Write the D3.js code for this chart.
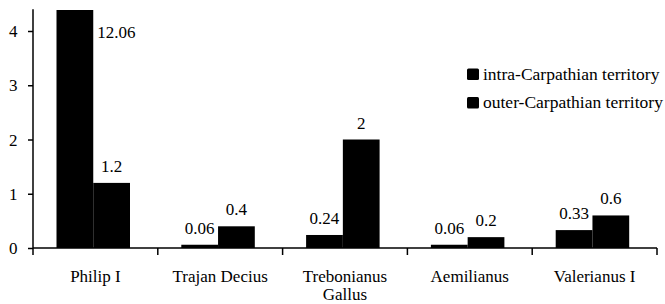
<!DOCTYPE html>
<html><head><meta charset="utf-8">
<script src="https://cdn.jsdelivr.net/npm/d3@7/dist/d3.min.js"></script>
<style>body{margin:0;background:#fff;} svg{display:block;} svg text{font-family:"Liberation Serif","DejaVu Serif",serif !important;}</style>
</head><body>
<svg id="c" width="665" height="304"></svg>
<script>
const categories = [["Philip I"], ["Trajan Decius"], ["Trebonianus", "Gallus"], ["Aemilianus"], ["Valerianus I"]];
const seriesNames = ["intra-Carpathian territory", "outer-Carpathian territory"];
const intraValues = [12.06, 0.06, 0.24, 0.06, 0.33];
const outerValues = [1.2, 0.4, 2, 0.2, 0.6];
const yTicks = [0, 1, 2, 3, 4];

(function () {
const FONT = "Liberation Serif, DejaVu Serif, serif";
const FS = 17;
const svg = d3.select("#c").attr("font-family", FONT);
const mLeft = 33, mRight = 657, mBottom = 248, mTop = 9.3;
const x = d3.scaleBand().domain(d3.range(categories.length)).range([mLeft, mRight]).paddingInner(0).paddingOuter(0);
const x1 = d3.scaleBand().domain([0, 1]).range([23.5, 97]);
const y = d3.scaleLinear().domain([0, 4.4]).range([mBottom, mTop]);

svg.append("clipPath").attr("id", "clip").append("rect")
  .attr("x", mLeft).attr("y", y(4.4) + 0.7).attr("width", mRight - mLeft).attr("height", mBottom - y(4.4));

const series = [intraValues, outerValues];
const g = svg.append("g").attr("clip-path", "url(#clip)");
series.forEach((vals, s) => {
  g.selectAll(".b" + s).data(vals).join("rect")
    .attr("x", (d, i) => x(i) + x1(s))
    .attr("width", x1.bandwidth())
    .attr("y", d => y(d))
    .attr("height", d => mBottom - y(d))
    .attr("fill", "#000");
});

// value labels
series.forEach((vals, s) => {
  svg.selectAll(".l" + s).data(vals).join("text")
    .attr("x", (d, i) => {
      if (y(d) < mTop) return x(i) + x1(s) + x1.bandwidth() + 4;
      return x(i) + x1(s) + x1.bandwidth() / 2;
    })
    .attr("y", d => y(d) < mTop ? y(4) + 7 : y(d) - 11)
    .attr("text-anchor", d => y(d) < mTop ? "start" : "middle")
    .attr("font-size", FS)
    .attr("font-family", FONT)
    .attr("fill", "#000")
    .text(d => d);
});

// y axis
const ya = svg.append("g").attr("transform", `translate(${mLeft},0)`)
  .call(d3.axisLeft(y).tickValues(yTicks).tickSize(5).tickPadding(10.5).tickFormat(d3.format("d")));
ya.attr("font-family", FONT);
ya.select(".domain").attr("d", `M0,${y(4.4)}V${mBottom}`).attr("stroke-width", 1.5);
ya.selectAll(".tick line").attr("stroke-width", 1.5);
ya.selectAll("text").attr("font-size", FS).attr("font-family", FONT).attr("dy", "0.33em");

// x axis
const xa = svg.append("g").attr("transform", `translate(0,${mBottom})`);
xa.append("line").attr("x1", mLeft).attr("x2", mRight).attr("stroke", "#000").attr("stroke-width", 1.5);
const bounds = d3.range(categories.length + 1).map(i => i < categories.length ? x(i) : x(i - 1) + x.bandwidth());
xa.selectAll(".t").data(bounds).join("line")
  .attr("x1", d => d).attr("x2", d => d).attr("y1", 0).attr("y2", 7)
  .attr("stroke", "#000").attr("stroke-width", 1.5);
const cl = xa.selectAll(".c").data(categories).join("text")
  .attr("text-anchor", "middle").attr("font-size", FS).attr("font-family", FONT).attr("fill", "#000");
cl.each(function(lines, i) {
  d3.select(this).selectAll("tspan").data(lines).join("tspan")
    .attr("x", x(i) + x.bandwidth() / 2)
    .attr("y", (d, j) => 33.5 + j * 18.5)
    .text(d => d);
});

// legend
const lg = svg.append("g").attr("transform", "translate(467,68.5)");
seriesNames.forEach((n, i) => {
  lg.append("rect").attr("x", 0).attr("y", i * 28.5).attr("width", 12).attr("height", 11.5).attr("rx", 1.5).attr("fill", "#000");
  lg.append("text").attr("x", 16).attr("y", i * 28.5 + 11).attr("font-size", 17.5).attr("font-family", FONT).attr("fill", "#000").text(n);
});
})();
</script>
</body></html>
